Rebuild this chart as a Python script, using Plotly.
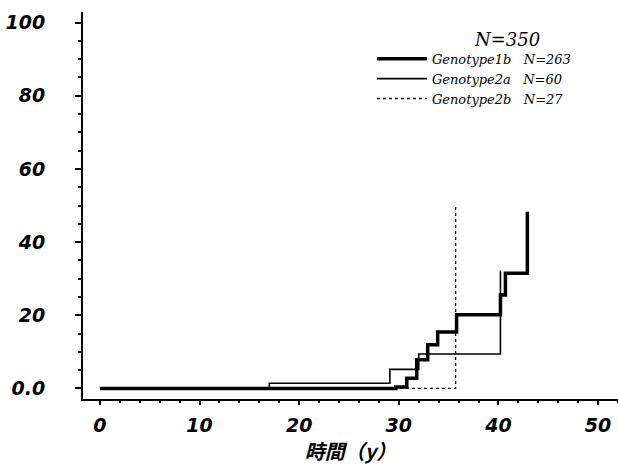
import plotly.graph_objects as go

# Data (cumulative incidence, %)
time_1b = [0, 29.7, 30.8, 31.8, 32.9, 33.9, 35.8, 40.2, 40.7, 42.9]
rate_1b = [0, 0.4, 2.8, 7.8, 11.9, 15.4, 20.1, 25.5, 31.5, 48.3]

time_2a = [0, 17.0, 29.1, 32.0, 40.2]
rate_2a = [0, 1.4, 5.2, 9.4, 32.2]

time_2b = [0, 35.7]
rate_2b = [0, 50.0]

names = ["Genotype1b   N=263", "Genotype2a   N=60", "Genotype2b   N=27"]
total_label = "N=350"

y_tickvals = [0, 20, 40, 60, 80, 100]
y_ticktext = ["0.0", "20", "40", "60", "80", "100"]
x_tickvals = [0, 10, 20, 30, 40, 50]
x_ticktext = ["0", "10", "20", "30", "40", "50"]
x_title = "時間（y）"

fig = go.Figure()
fig.add_trace(go.Scatter(x=time_1b, y=rate_1b, mode="lines", name=names[0],
                         line=dict(color="black", width=3.5, shape="hv")))
fig.add_trace(go.Scatter(x=time_2a, y=rate_2a, mode="lines", name=names[1],
                         line=dict(color="black", width=1.6, shape="hv")))
fig.add_trace(go.Scatter(x=time_2b, y=rate_2b, mode="lines", name=names[2],
                         line=dict(color="black", width=1.3, shape="hv", dash="3px,3px")))

tickfont = dict(family="DejaVu Sans", size=19, color="black", style="italic", weight="bold")

fig.update_layout(
    width=618, height=471,
    margin=dict(l=83, r=0, t=12, b=72),
    paper_bgcolor="white", plot_bgcolor="white",
    showlegend=True,
    legend=dict(x=0.54, y=0.918, xanchor="left", yanchor="top",
                bgcolor="rgba(0,0,0,0)",
                font=dict(family="DejaVu Serif", size=13, color="black", style="italic"),
                tracegroupgap=0, itemwidth=50),
    xaxis=dict(range=[-1.7, 52.0], showline=True, linecolor="black", linewidth=2,
               showgrid=False, zeroline=False,
               tickvals=x_tickvals, ticktext=x_ticktext,
               ticks="outside", ticklen=4, tickwidth=1.5, tickcolor="black",
               ticklabelstandoff=4,
               minor=dict(dtick=2, ticks="outside", ticklen=2, tickcolor="black"),
               tickfont=tickfont,
               title=dict(text=x_title, standoff=8,
                          font=dict(family="Noto Sans CJK JP", size=20, color="black",
                                    style="italic", weight="bold"))),
    yaxis=dict(range=[-2.9, 102.9], showline=True, linecolor="black", linewidth=2,
               showgrid=False, zeroline=False,
               tickvals=y_tickvals, ticktext=y_ticktext,
               ticks="outside", ticklen=6, tickwidth=1.5, tickcolor="black",
               ticklabelstandoff=26,
               minor=dict(dtick=5, ticks="outside", ticklen=3, tickcolor="black"),
               tickfont=tickfont),
    annotations=[dict(text=total_label, x=0.793, y=0.928, xref="paper", yref="paper",
                      xanchor="center", yanchor="middle", showarrow=False,
                      font=dict(family="DejaVu Serif", size=18, color="black", style="italic"))],
)

fig.write_html("out.html")
